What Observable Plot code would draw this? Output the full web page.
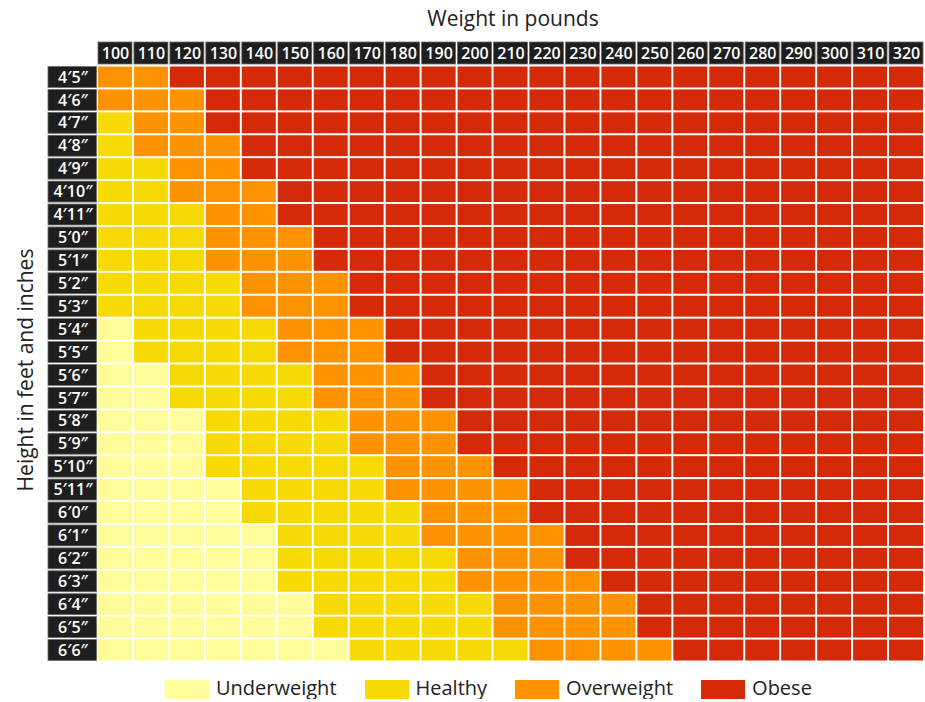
<!DOCTYPE html>
<html>
<head>
<meta charset="utf-8">
<script src="https://cdn.jsdelivr.net/npm/d3@7"></script>
<script src="https://cdn.jsdelivr.net/npm/@observablehq/plot@0.6"></script>
<style>
  html, body { margin: 0; padding: 0; background: #fff; }
  body { width: 925px; font-family: "Open Sans", sans-serif; }
  #chart svg { display: block; }
  #legend { display: flex; align-items: center; height: 22px; margin-top: 9px; padding-left: 165px; }
  #legend .item { display: flex; align-items: center; margin-right: 28px; }
  #legend .sw { width: 44px; height: 20px; margin-right: 7px; position: relative; top: 2px; }
  #legend .lb { font-size: 20px; line-height: 22px; color: #222; white-space: nowrap; }
</style>
</head>
<body>
<div id="chart"></div>
<div id="legend"></div>
<script>
// Column (weight) tick labels, in pounds
const weights = [100, 110, 120, 130, 140, 150, 160, 170, 180, 190, 200, 210, 220, 230, 240, 250, 260, 270, 280, 290, 300, 310, 320];

// Row (height) tick labels
const heights = ["4′5″", "4′6″", "4′7″", "4′8″", "4′9″", "4′10″", "4′11″",
  "5′0″", "5′1″", "5′2″", "5′3″", "5′4″", "5′5″", "5′6″", "5′7″", "5′8″", "5′9″", "5′10″", "5′11″",
  "6′0″", "6′1″", "6′2″", "6′3″", "6′4″", "6′5″", "6′6″"];

// For each height row: first weight column that is Healthy, Overweight, Obese
const healthyFrom    = [100, 100, 100, 100, 100, 100, 100, 100, 100, 100, 100, 110, 110, 120, 120, 130, 130, 130, 140, 140, 150, 150, 150, 160, 160, 170];
const overweightFrom = [100, 100, 110, 110, 120, 120, 130, 130, 130, 140, 140, 150, 150, 160, 160, 170, 170, 180, 180, 190, 190, 200, 200, 210, 210, 220];
const obeseFrom      = [120, 130, 130, 140, 140, 150, 150, 160, 160, 170, 170, 180, 180, 190, 190, 200, 200, 210, 220, 220, 230, 230, 240, 250, 250, 260];

const categories = ["Underweight", "Healthy", "Overweight", "Obese"];
const colors = ["#FFFD99", "#F6D905", "#FE9200", "#D52A08"];

// Build the cell table
const cells = heights.flatMap((h, i) => weights.map(w => ({
  height: h,
  weight: w,
  category: w < healthyFrom[i] ? categories[0]
    : w < overweightFrom[i] ? categories[1]
    : w < obeseFrom[i] ? categories[2]
    : categories[3]
})));

const W = 925, H = 668;
const mL = 97, mR = 1, mT = 65.5, mB = 6.5;
const frameH = H - mT - mB;
const frameW = W - mL - mR;
const boxFill = "#1e1e1e", boxStroke = "#6a6a6a";

const plot = Plot.plot({
  width: W,
  height: H,
  marginLeft: mL,
  marginRight: mR,
  marginTop: mT,
  marginBottom: mB,
  style: { fontFamily: "'Open Sans', sans-serif", color: "#222", background: "#fff" },
  x: { type: "band", domain: weights, padding: 0, round: false, inset: 0 },
  y: { type: "band", domain: heights, padding: 0, round: false, inset: 0 },
  color: { domain: categories, range: colors },
  marks: [
    Plot.cell(cells, { x: "weight", y: "height", fill: "category", inset: 1 }),
    // header boxes for weight labels
    Plot.cell(weights, {
      x: d => d, fill: boxFill, stroke: boxStroke, strokeWidth: 0.8,
      insetLeft: 1, insetRight: 1, insetTop: -(mT - 42), insetBottom: frameH + (mT - 64)
    }),
    // row boxes for height labels
    Plot.cell(heights, {
      y: d => d, fill: boxFill, stroke: boxStroke, strokeWidth: 0.8,
      insetTop: 1, insetBottom: 1, insetLeft: -(mL - 48), insetRight: frameW + (mL - 96.5)
    }),
    Plot.axisX({
      anchor: "top", tickSize: 0, tickPadding: 12.5, lineAnchor: "middle",
      color: "white", fontSize: 16, fontWeight: 600, label: null
    }),
    Plot.axisY({
      anchor: "left", tickSize: 0, tickPadding: 24.5, textAnchor: "middle",
      color: "white", fontSize: 16, fontWeight: 600, label: null
    }),
    Plot.text(["Weight in pounds"], {
      frameAnchor: "top", dy: -47, dx: 2, lineAnchor: "middle", fontSize: 21, fill: "#222"
    }),
    Plot.text(["Height in feet and inches"], {
      frameAnchor: "left", dx: -71, dy: 6, rotate: -90, textAnchor: "middle",
      lineAnchor: "middle", fontSize: 21, fill: "#222"
    })
  ]
});
document.getElementById("chart").appendChild(plot);

// Legend built from the category / color arrays
const legend = d3.select("#legend");
categories.forEach((c, i) => {
  const item = legend.append("div").attr("class", "item");
  item.append("div").attr("class", "sw").style("background", colors[i]);
  item.append("div").attr("class", "lb").text(c);
});
</script>
</body>
</html>
